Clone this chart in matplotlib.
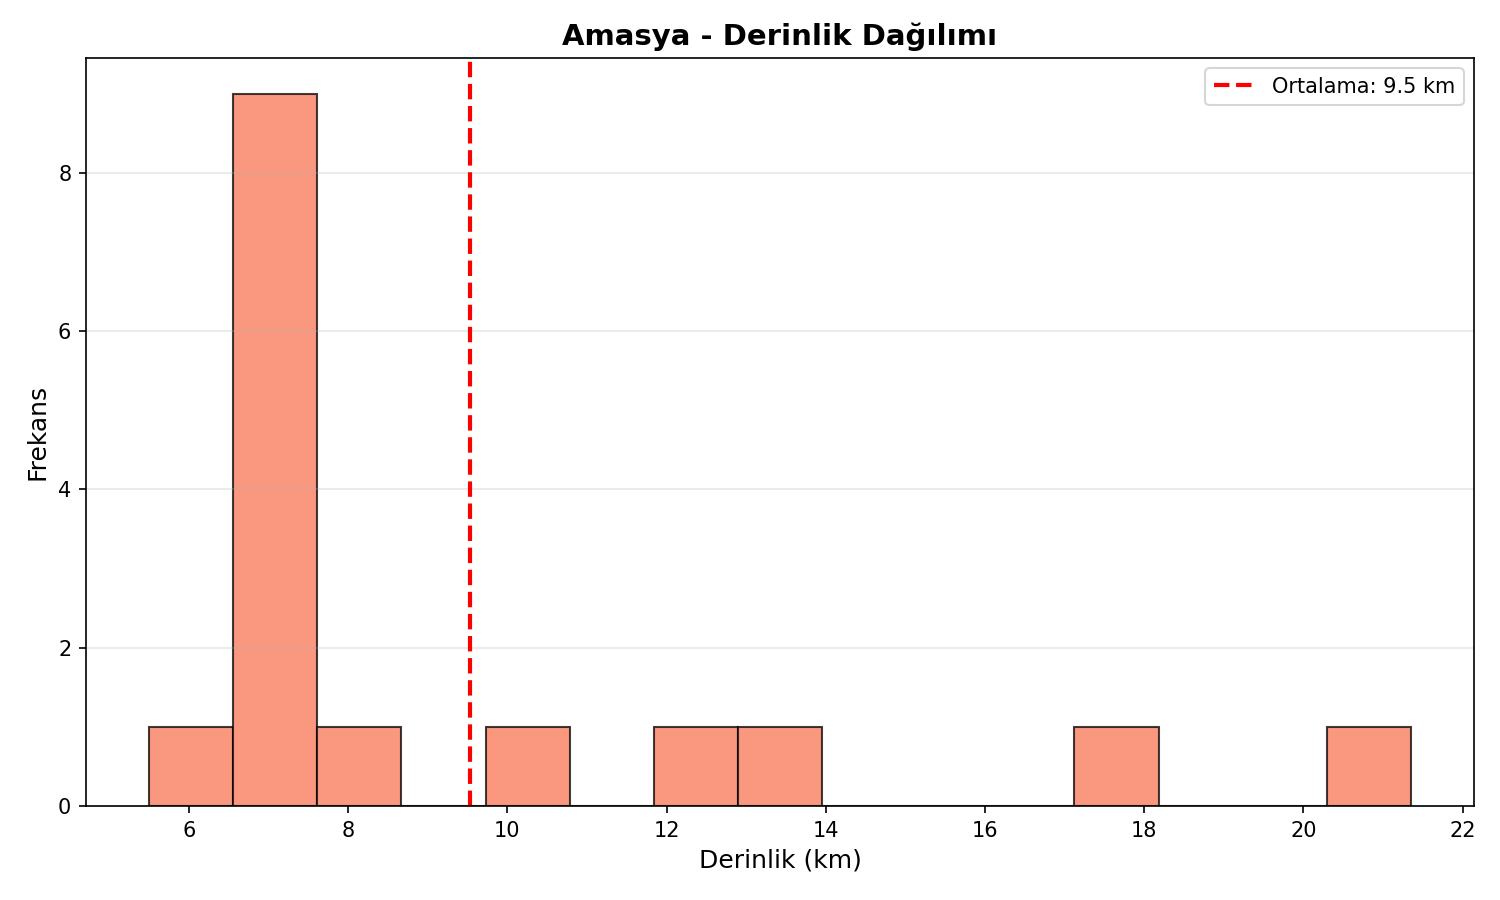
import matplotlib
matplotlib.use("Agg")
import matplotlib.pyplot as plt
import numpy as np

depths = [5.5, 7.0, 7.0, 7.0, 7.0, 7.0, 7.2, 7.3, 7.5, 7.4,
          8.0, 10.0, 12.5, 13.2, 17.5, 21.35]
n_bins = 15
title = "Amasya - Derinlik Dağılımı"
xlabel = "Derinlik (km)"
ylabel = "Frekans"

fig, ax = plt.subplots(figsize=(10, 6), dpi=150)
ax.hist(depths, bins=n_bins, facecolor=(250/255, 151/255, 127/255, 1.0),
        edgecolor=(0, 0, 0, 0.75))
mean = np.mean(depths)
ax.axvline(mean, color="red", linestyle="--", linewidth=2,
           label=f"Ortalama: {mean:.1f} km")
ax.set_title(title, fontsize=14, fontweight="bold")
ax.set_xlabel(xlabel, fontsize=12)
ax.set_ylabel(ylabel, fontsize=12)
ax.legend()
ax.grid(axis="y", alpha=0.3)
fig.subplots_adjust(left=0.0573, right=0.9827, top=0.9356, bottom=0.1044)
fig.savefig("out.png")
